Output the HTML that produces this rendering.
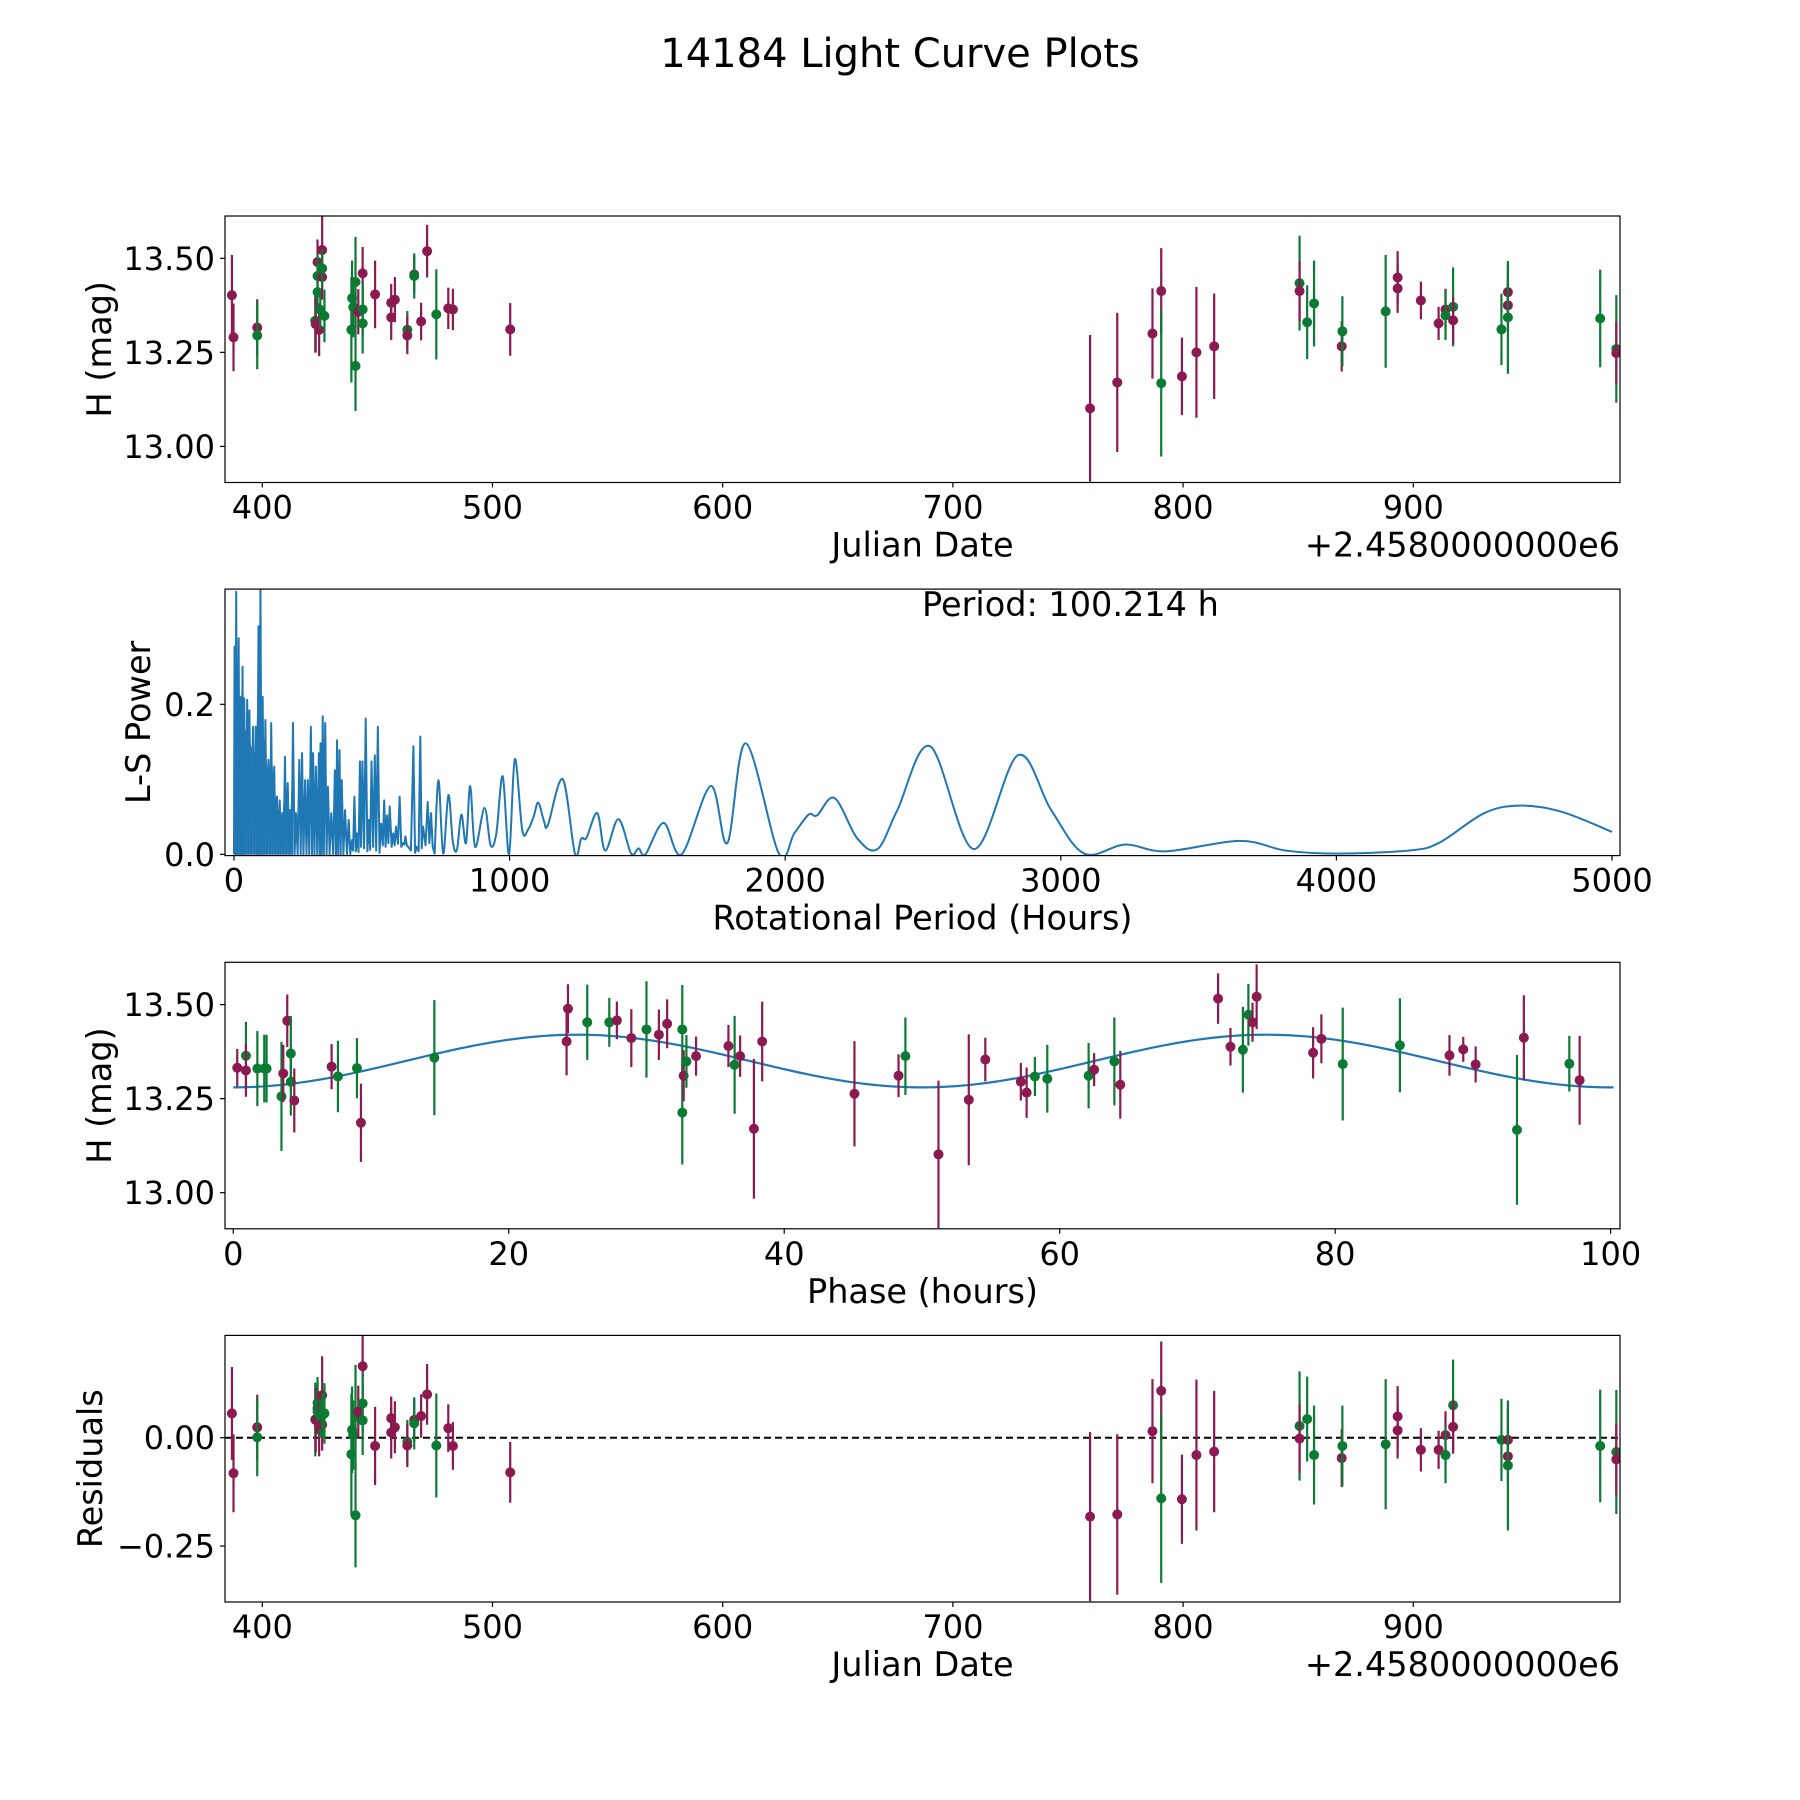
<!DOCTYPE html>
<html><head><meta charset="utf-8"><style>
html,body{margin:0;padding:0;background:#fff}
svg{display:block}
text{font-family:"DejaVu Sans","Liberation Sans",sans-serif;fill:#000}
</style></head><body>
<svg id="fig" width="1800" height="1800" viewBox="0 0 1800 1800" xmlns="http://www.w3.org/2000/svg">
<rect width="1800" height="1800" fill="#fff"/>
<text x="900" y="67" font-size="40" text-anchor="middle">14184 Light Curve Plots</text>
</svg>
<script>
// ---- light curve data (JD offset from 2458000) ----
const lcJD=[386.8,387.5,397.8,397.8,423,423.2,424,424,424,424.7,425.2,426,426,426,427,438.7,439,439.5,440.5,440.5,441.7,443.6,443.6,443.6,449,456,456,457.6,463,463,466,466,469,471.6,475.6,480.8,482.8,507.7,759.6,771.4,786.7,790.5,790.5,799.5,805.8,813.5,850.6,850.6,853.9,856.9,868.9,869.2,888,893.2,893.2,903.3,911,914,914,917.3,917.3,938.3,941.1,941.1,941.1,981.2,988.2,988.2];
const lcMag=[13.402,13.29,13.316,13.295,13.334,13.325,13.49,13.453,13.41,13.31,13.363,13.522,13.45,13.473,13.347,13.31,13.394,13.37,13.437,13.214,13.358,13.46,13.364,13.327,13.404,13.382,13.343,13.39,13.31,13.295,13.457,13.453,13.332,13.519,13.351,13.367,13.364,13.311,13.101,13.17,13.30,13.413,13.168,13.186,13.25,13.266,13.434,13.413,13.33,13.38,13.266,13.306,13.359,13.449,13.42,13.388,13.327,13.364,13.348,13.371,13.335,13.311,13.41,13.375,13.343,13.34,13.259,13.248];
const lcErr=[0.107,0.09,0.075,0.09,0.085,0.075,0.06,0.06,0.05,0.07,0.05,0.09,0.06,0.05,0.07,0.14,0.1,0.08,0.12,0.12,0.06,0.07,0.07,0.08,0.09,0.05,0.06,0.06,0.05,0.05,0.05,0.06,0.05,0.07,0.12,0.055,0.055,0.07,0.195,0.185,0.12,0.114,0.195,0.103,0.174,0.14,0.126,0.08,0.098,0.114,0.067,0.093,0.15,0.07,0.065,0.05,0.044,0.055,0.065,0.105,0.062,0.095,0.07,0.06,0.15,0.13,0.143,0.083];
const lcBand=[0,0,0,1,1,0,0,1,1,0,1,0,0,1,1,1,1,1,1,1,0,0,1,1,0,0,0,0,1,0,0,1,0,0,1,0,0,0,0,0,0,0,1,0,0,0,1,0,1,1,0,1,1,0,0,0,0,0,1,1,0,1,0,0,1,1,1,0];
const resid=[0.056,-0.082,0.024,0.001,0.042,0.041,0.068,0.08,0.06,0.027,0.05,0.098,0.03,0.052,0.056,-0.038,0.018,0.006,0.048,-0.179,0.06,0.165,0.079,0.04,-0.019,0.045,0.012,0.024,-0.009,-0.018,0.041,0.033,0.05,0.1,-0.018,0.022,-0.019,-0.08,-0.182,-0.177,0.015,0.108,-0.14,-0.142,-0.04,-0.032,0.027,-0.002,0.043,-0.04,-0.047,-0.019,-0.015,0.049,0.017,-0.028,-0.028,0.006,-0.04,0.075,0.025,-0.005,-0.005,-0.043,-0.064,-0.019,-0.033,-0.05];
// ---- phased data ----
const phPhase=[0.29,0.92,0.92,1.75,2.25,2.42,3.5,3.63,3.92,4.18,4.18,4.43,7.14,7.6,8.98,9.27,14.6,24.2,24.3,25.7,27.3,27.85,28.9,30.0,30.9,31.5,32.6,32.6,32.7,32.9,33.6,35.95,36.4,36.8,37.8,38.4,45.1,48.3,48.8,51.2,53.4,54.6,57.18,57.6,58.2,59.1,62.1,62.5,63.97,64.4,71.5,72.4,73.3,73.7,74.0,74.3,78.4,79.0,80.55,84.7,88.3,89.3,90.2,93.2,93.7,97.0,97.75];
const phMag=[13.332,13.364,13.325,13.33,13.33,13.33,13.256,13.317,13.457,13.37,13.295,13.245,13.335,13.309,13.331,13.186,13.359,13.402,13.489,13.453,13.453,13.458,13.411,13.434,13.42,13.449,13.434,13.213,13.311,13.349,13.363,13.39,13.34,13.363,13.17,13.402,13.263,13.311,13.363,13.102,13.247,13.354,13.295,13.266,13.309,13.303,13.311,13.327,13.349,13.287,13.516,13.388,13.38,13.473,13.453,13.521,13.372,13.409,13.342,13.392,13.365,13.381,13.341,13.167,13.412,13.343,13.299];
const phErr=[0.05,0.09,0.07,0.1,0.09,0.09,0.145,0.076,0.07,0.1,0.09,0.085,0.06,0.095,0.08,0.104,0.153,0.09,0.065,0.1,0.065,0.05,0.077,0.128,0.067,0.065,0.118,0.138,0.068,0.07,0.052,0.056,0.13,0.055,0.186,0.106,0.14,0.057,0.103,0.196,0.174,0.058,0.05,0.067,0.052,0.09,0.087,0.044,0.117,0.09,0.067,0.05,0.114,0.082,0.052,0.086,0.068,0.065,0.15,0.125,0.054,0.033,0.048,0.199,0.113,0.074,0.118];
const phBand=[0,1,0,1,1,1,1,0,0,1,1,0,0,1,1,0,1,0,0,1,1,0,0,1,0,0,1,1,0,1,0,0,1,0,0,0,0,0,1,0,0,0,0,0,1,1,1,0,1,0,0,0,1,1,0,0,0,0,1,1,0,0,0,1,0,1,0];
const modelMean=13.35, modelAmp=0.07, modelPeriod=50, foldPeriod=100.214;
// ---- periodogram ----
const lsPeriod=[0,2,5,8,12,17,20,23,27,31,34,37,42,48,52,56,62,69,74,79,84,89,92,96,100,104,109,114,119,125,130,135,140,146,151,156,161,166,170,175,180,185,190,195,200,204,209,214,220,225,231,237,242,247,252,258,263,268,273,279,283,287,292,297,302,308,311,314,318,322,326,331,336,341,347,353,360,366,370,374,378,383,387,391,397,403,410,416,422,428,432,437,442,447,452,457,461,466,472,478,484,489,494,499,505,511,516,522,528,534,540,545,550,555,560,565,572,578,583,588,595,601,607,613,618,622,627,632,642,651,657,663,670,676,681,686,695,703,709,715,721,728];
const lsPower=[0,0.277,0,0.35,0,0.288,0,0.21,0,0.25,0,0.208,0,0.206,0,0.192,0,0.17,0,0.17,0,0.304,0,0.36,0,0.21,0,0.179,0,0.126,0,0.175,0,0.117,0,0.077,0,0.072,0,0.055,0,0.13,0,0.095,0,0.059,0,0.175,0,0.055,0,0.126,0,0.135,0,0.099,0,0.099,0,0.17,0,0.135,0,0.117,0,0.135,0,0.148,0,0.184,0,0.175,0,0.09,0,0.055,0,0.112,0,0.152,0,0.139,0,0.099,0,0.059,0,0.046,0,0.019,0.005,0.077,0.004,0.028,0.003,0.124,0.01,0.124,0.008,0.181,0.004,0.046,0.006,0.124,0.01,0.132,0.005,0.17,0.002,0.041,0.012,0.072,0.01,0.052,0.015,0.064,0.01,0.028,0.012,0.037,0.014,0.077,0.01,0.015,0.013,0.024,0.012,0.01,0.005,0.144,0.002,0.01,0.004,0.157,0.008,0.037,0.012,0.07,0.015,0.055,0.01,0.001];
const lsSmoothPeriod=[728,742,759,778,794,809,825,842,857,875,909,931,952,975,998,1019,1046,1067,1087,1104,1125,1139,1193,1237,1260,1279,1318,1347,1395,1441,1468,1493,1559,1624,1730,1790,1857,1977,2033,2085,2116,2179,2262,2335,2407,2526,2684,2844,2965,3085,3233,3381,3649,3816,4001,4260,4371,4537,4667,4815,5000];
const lsSmoothPower=[0.001,0.099,0.001,0.079,0.017,0.006,0.053,0.015,0.091,0.01,0.062,0.012,0.028,0.104,0.0,0.127,0.032,0.033,0.05,0.069,0.044,0.039,0.1,0.001,0.021,0.022,0.055,0.005,0.047,0.001,0.008,0.0,0.042,0.0,0.091,0.015,0.148,0.001,0.028,0.053,0.052,0.075,0.021,0.007,0.059,0.144,0.007,0.132,0.059,0.001,0.013,0.004,0.018,0.005,0.001,0.005,0.015,0.055,0.065,0.057,0.03];
const bestPeriodLabel="Period: 100.214 h";
const jdTicks=[400,500,600,700,800,900];
const magTicks=[13.00,13.25,13.50];
const lsXTicks=[0,1000,2000,3000,4000,5000];
const lsYTicks=[0.0,0.2];
const phTicks=[0,20,40,60,80,100];
const resTicks=[-0.25,0.00];

const NS="http://www.w3.org/2000/svg";
const svg=document.getElementById('fig');
const PURPLE="#8a1a4f", GREEN="#0b7b33", BLUE="#1f77b4";
const TF=32, LF=33.5;
function mk(tag,attrs,parent){const e=document.createElementNS(NS,tag);for(const k in attrs)e.setAttribute(k,attrs[k]);(parent||svg).appendChild(e);return e;}
const L=225,R=1620;
function axes(y0,y1,xmin,xmax,ymin,ymax,name){
  const g=mk('g',{});
  
  
  return {g,y0,y1,
    sx:v=>L+(v-xmin)/(xmax-xmin)*(R-L),
    sy:v=>y1-(v-ymin)/(ymax-ymin)*(y1-y0)};
}
function frame(a){
  const r=mk('rect',{x:L,y:a.y0,width:R-L,height:a.y1-a.y0,fill:'none',stroke:'#000','stroke-width':1.2},a.g);
  
  
}
function xticks(a,ticks,fmt){
  ticks.forEach(t=>{const x=a.sx(t);
    mk('line',{x1:x,x2:x,y1:a.y1,y2:a.y1+5,stroke:'#000','stroke-width':1.2},a.g);
    const tx=mk('text',{x:x,y:a.y1+36,'font-size':TF,'text-anchor':'middle'},a.g);tx.textContent=fmt(t);
    
    
  });
}
function yticks(a,ticks,fmt){
  ticks.forEach(t=>{const y=a.sy(t);
    mk('line',{x1:L-5,x2:L,y1:y,y2:y,stroke:'#000','stroke-width':1.2},a.g);
    const tx=mk('text',{x:L-10,y:y+11.5,'font-size':TF,'text-anchor':'end'},a.g);tx.textContent=fmt(t);
    
    
  });
}
function xlabel(a,s,nm){const t=mk('text',{x:(L+R)/2,y:a.y1+74,'font-size':LF,'text-anchor':'middle'},a.g);t.textContent=s;
  
  }
function ylabel(a,s,x,nm){const cy=(a.y0+a.y1)/2;const t=mk('text',{x:x,y:cy,'font-size':LF,'text-anchor':'middle',transform:`rotate(-90 ${x} ${cy})`},a.g);t.textContent=s;
  
  }
function offsetText(a){const t=mk('text',{x:R,y:a.y1+74,'font-size':LF,'text-anchor':'end'},a.g);t.textContent='+2.4580000000e6';
  
  }
function clip(a,id){const c=mk('clipPath',{id:id});mk('rect',{x:L,y:a.y0,width:R-L,height:a.y1-a.y0},c);}
function errpts(a,xs,ys,es,bands,cid){
  const g=mk('g',{'clip-path':`url(#${cid})`},a.g);
  xs.forEach((xv,i)=>{const col=bands[i]?GREEN:PURPLE;const x=a.sx(xv);
    const ln=mk('line',{x1:x,x2:x,y1:a.sy(ys[i]+es[i]),y2:a.sy(ys[i]-es[i]),stroke:col,'stroke-width':2.2},g);
    
    
    const c=mk('circle',{cx:x,cy:a.sy(ys[i]),r:5,fill:col},g);
    
    
  });
}
const f2=v=>v.toFixed(2);
const fres=v=>(v<0?'\u2212':'')+Math.abs(v).toFixed(2);

// Panel 1
const a1=axes(216,482.5,383.8,989.8,12.904,13.6125,'light-curve-panel');
clip(a1,'c1');
errpts(a1,lcJD,lcMag,lcErr,lcBand,'c1');
frame(a1);xticks(a1,jdTicks,String);yticks(a1,magTicks,f2);
xlabel(a1,'Julian Date','x-axis-title');offsetText(a1);ylabel(a1,'H (mag)',111,'y-axis-title');

// Panel 2
const a2=axes(589.1,855.6,-32.6,5029,-0.0017,0.3536,'periodogram-panel');
clip(a2,'c2');
{
  const g=mk('g',{'clip-path':'url(#c2)'},a2.g);
  let fp=`M${a2.sx(lsPeriod[0])},${a2.sy(0)}`;
  lsPeriod.forEach((p,i)=>{if(p<=215&&lsPower[i]>0)fp+=`L${a2.sx(p)},${a2.sy(lsPower[i]*0.8)}`;});
  fp+=`L${a2.sx(215)},${a2.sy(0)}Z`;
  const fe=mk('path',{d:fp,fill:BLUE,opacity:0.9},g);
  
  
  let d='';
  lsPeriod.forEach((p,i)=>{d+=(i?'L':'M')+a2.sx(p).toFixed(2)+','+a2.sy(lsPower[i]).toFixed(2);});
  const P=lsSmoothPeriod.map(a2.sx), Q=lsSmoothPower.map(a2.sy);
  d+=`L${P[0]},${Q[0]}`;
  for(let i=0;i<P.length-1;i++){
    const x0=P[Math.max(0,i-1)],y0=Q[Math.max(0,i-1)],x1=P[i],y1=Q[i],x2=P[i+1],y2=Q[i+1],x3=P[Math.min(P.length-1,i+2)],y3=Q[Math.min(P.length-1,i+2)];
    d+=`C${(x1+(x2-x0)/6).toFixed(2)},${(y1+(y2-y0)/6).toFixed(2)} ${(x2-(x3-x1)/6).toFixed(2)},${(y2-(y3-y1)/6).toFixed(2)} ${x2.toFixed(2)},${y2.toFixed(2)}`;
  }
  const pl=mk('path',{d:d,fill:'none',stroke:BLUE,'stroke-width':2,'stroke-linejoin':'round'},g);
  
  
}
frame(a2);xticks(a2,lsXTicks,String);yticks(a2,lsYTicks,v=>v.toFixed(1));
xlabel(a2,'Rotational Period (Hours)','x-axis-title');ylabel(a2,'L-S Power',150,'y-axis-title');
{const t=mk('text',{x:922,y:616,'font-size':LF},a2.g);t.textContent=bestPeriodLabel;
 
 }

// Panel 3
const a3=axes(962.3,1228.8,-0.6,100.68,12.904,13.6125,'phased-curve-panel');
clip(a3,'c3');
{
  const g=mk('g',{'clip-path':'url(#c3)'},a3.g);
  let d='';
  for(let i=0;i<=400;i++){const ph=foldPeriod*i/400;const m=modelMean-modelAmp*Math.cos(2*Math.PI*ph/modelPeriod);
    d+=(i?'L':'M')+a3.sx(ph).toFixed(2)+','+a3.sy(m).toFixed(2);}
  const ml=mk('path',{d:d,fill:'none',stroke:BLUE,'stroke-width':2.2},g);
  
  
}
errpts(a3,phPhase,phMag,phErr,phBand,'c3');
frame(a3);xticks(a3,phTicks,String);yticks(a3,magTicks,f2);
xlabel(a3,'Phase (hours)','x-axis-title');ylabel(a3,'H (mag)',111,'y-axis-title');

// Panel 4
const a4=axes(1335.4,1602,383.8,989.8,-0.379,0.236,'residuals-panel');
clip(a4,'c4');
{const zl=mk('line',{x1:L,x2:R,y1:a4.sy(0),y2:a4.sy(0),stroke:'#000','stroke-width':2,'stroke-dasharray':'7,4'},a4.g);
 
 }
errpts(a4,lcJD,resid,lcErr,lcBand,'c4');
frame(a4);xticks(a4,jdTicks,String);yticks(a4,resTicks,fres);
xlabel(a4,'Julian Date','x-axis-title');offsetText(a4);ylabel(a4,'Residuals',102,'y-axis-title');
</script>
</body></html>
